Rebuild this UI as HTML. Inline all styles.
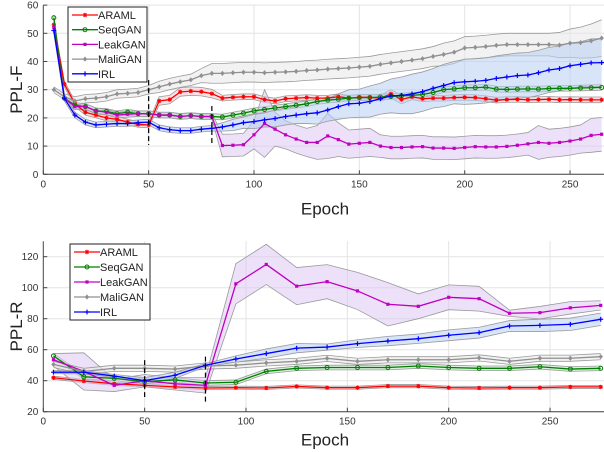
<!DOCTYPE html>
<html><head><meta charset="utf-8"><style>
html,body{margin:0;padding:0;background:#fff}
svg{display:block;font-family:"Liberation Sans",Arial,sans-serif}
</style></head><body>
<svg id="c" width="604" height="452" viewBox="0 0 604 452"></svg>
<script>
// ---------- TOP PANEL DATA (PPL-F) ----------
const epochsF = [5,10,15,20,25,30,35,40,45,50,55,60,65,70,75,80,85,90,95,100,105,110,115,120,125,130,135,140,145,150,155,160,165,170,175,180,185,190,195,200,205,210,215,220,225,230,235,240,245,250,255,260,265];
const arF  = [53,32,25,22,21,20,19.5,18.5,17.7,17.5,26,26.5,29.2,29.5,29.3,28.6,27,27.3,27.5,27.5,26.5,26,26.8,27,27.2,27,27,27.5,27,27.3,27.3,27,28.5,26.5,27.5,26.8,27,27,27.2,27.3,27.2,26.8,26.3,26.5,26.6,26.4,26.5,26.6,26.4,26.5,26.4,26.4,26.4];
const arFb = [1,1,1,1,1,1,1,1,1,1,1.5,1.5,1.5,1.5,1.5,1.5,1,1,1,1,1,1,1,1,1,1,1,1,1,1,1,1,1.5,1.5,1,1,1,1,1,1,1,1,1,1,1,1,1,1,1,1,1,1,1];
const sgF  = [55.5,27,24.5,24,22.5,22.3,21.5,22,21.5,21.5,21,21,20.5,20.8,20.5,20.5,20.3,21,21.7,22.5,23,23.5,24,24.5,25,25.8,26.3,26.6,27,27.2,27.2,27.4,27.6,27.8,28,28.3,29,30,30.3,30.7,30.7,30.9,30.2,30.1,30.2,30.3,30.2,30.4,30.5,30.5,30.6,30.7,30.8];
const sgFb = [1,1,1,1,1,1,1,1,1,1,1,1,1,1,1,1,1,1,1,1,1,1,1,1,1,1,1,1,1,1,1,1,1,1,1,1,1,1,1,1,1,1,1,1,1,1,1,1,1,1,1,1,1];
const lkF  = [52,27,24,24,22.5,22,21,21.3,21.5,21.5,21,21,20.5,20.8,20.5,20.5,10.2,10.3,10.5,14,18,16,14,12.5,11.3,11.3,13.6,12.3,10.7,11,11.3,10,9.5,9.5,9.7,9.8,9.3,9.3,9.2,9.5,9.8,9.7,9.7,9.9,10.3,10.8,11.3,11,11.3,11.8,12.5,13.8,14.2];
const lkFb = [1,1,1,1,1,1,1,1,1,1,1,1,1,1,1,1,4,4,4,5,12,6,5,5,5,6,8,6,5,5,5,4,4,4,4,4,4,4,4,4,4,4,4,4,4,4,6,5,5,5,5,6,6];
const mgF  = [30,27.5,26,26.8,27,27.5,28.5,28.7,29,30,31,32,32.8,33.5,35,35.8,35.8,36,36.2,36.2,36,36.2,36.3,36.5,36.8,37,37.3,37.5,37.7,38,38.3,39,39.5,40,40.5,41,41.8,42.5,43.3,44.8,45,45.3,45.7,46,46,46,46,46,45.8,46.5,46.7,47.3,48.3];
const mgFb = [1,1,1.5,1.5,1.5,1.5,1.5,1.5,1.5,1.5,2,2,2,2,2.5,3.5,3.5,3.5,3.5,3.5,3.5,3.5,3.5,3.5,3.5,3.5,3.5,3.5,3.5,3.5,3.5,3.5,3.5,3.5,3.5,3.5,3.5,4,4,4,4,4,4,4,4,4,4,4,4.5,5,5.5,6,6.5];
const irF  = [51,27,21,18.5,17.5,17.8,18,18,18.3,18.5,16.5,15.8,15.5,15.5,16,16.3,16.8,17.5,18.3,18.7,19.3,19.8,20.5,21,21.5,21.8,22.8,24,25,25.2,25.8,26.8,27.8,28,28.5,29.3,30.5,31.5,32.5,32.8,33,33.3,34,34.5,35,35.2,36,37,37.5,38.5,39,39.5,39.6];
const irFb = [1,1,1,1,1,1,1,1,1,1,1,1,1,1,1,1,1.5,2,2,2.5,2.5,3,3,3,3.5,4,4,4.5,5,5,5.5,5.5,6,6.5,7,7,7,7.5,7.5,8,8,8,8,8,8,8,8,8,8,8,8,8.5,8.5];
const yTicksF = [0,10,20,30,40,50,60];
const xTicksF = [0,50,100,150,200,250];

// ---------- BOTTOM PANEL DATA (PPL-R) ----------
const epochsR = [5,20,35,50,65,80,95,110,125,140,155,170,185,200,215,230,245,260,275];
const arR  = [41.9,39.8,38,37,36,35.3,35.5,35.3,36.3,35.5,35.5,36.5,36.5,35.5,35.3,35.5,35.5,36,36];
const arRb = [1,1,1,1,1,1,1,1,1,1,1,1,1,1,1,1,1,1,1];
const sgR  = [56,42.5,41.5,39.5,40.5,38.5,39,46,48,48.5,48.5,48.5,49.5,48.5,48,48,49,47.5,48];
const sgRb = [1.5,1.5,1.5,1.5,1.5,1.5,1.5,1.5,1.5,1.5,1.5,1.5,1.5,1.5,1.5,1.5,1.5,1.5,1.5];
const lkR  = [53.5,46,37,40,38,37,102.5,115,101,103.9,97.9,89.3,88,93.8,92.9,83.5,83.9,87,88.6];
const lkRb = [4,12,4,4,4,5,13,13,12,11,12,14,8,8,8,2,4,4,3];
const mgR  = [50.5,46,48,48,47.5,49.5,50,51.5,52.5,54.4,52.5,53.5,53.5,53.5,54.7,52.5,54.5,54.5,55.5];
const mgRb = [2,2,2,2,2,2,2,2,2,2,2,2,2,2,2,2,2,2,2];
const irR  = [45.5,45.5,43,40,43.5,50,54,57.5,61,61.7,63.9,65.6,67.1,69.3,71,75.3,75.7,76.4,79.6];
const irRb = [1,1,1,2,2,1,2,3,3,2,2.5,3,3,3.5,3.5,3.5,4,4,4];
const yTicksR = [20,40,60,80,100,120];
const xTicksR = [0,50,100,150,200,250];

const seriesNames = ["ARAML","SeqGAN","LeakGAN","MaliGAN","IRL"];
const lineColors = ["#ff0000","#008000","#c000c0","#909090","#0000ff"];
const fillColors = ["#f8c8d0","#bfe3c4","#dcc8f2","#e8e8e8","#b8d0f4"];
const markers = ["star","circle","square","diamond","plus"];

const NS="http://www.w3.org/2000/svg";
const svg=document.getElementById('c');
function el(tag,attrs,parent){const e=document.createElementNS(NS,tag);for(const k in attrs)e.setAttribute(k,attrs[k]);(parent||svg).appendChild(e);return e;}

function panel(cfg){
  const g=el('g',{});
  
  
  const sx=v=>cfg.x0+v*cfg.kx, sy=v=>cfg.yb-(v-cfg.ymin)*cfg.ky;
  const top=sy(cfg.ymax), bot=sy(cfg.ymin);
  const cid='clip'+cfg.id;
  const cp=el('clipPath',{id:cid},g); el('rect',{x:cfg.x0,y:top,width:604-cfg.x0,height:bot-top},cp);
  const grid=el('g',{},g);
  
  
  cfg.yt.forEach(t=>{el('line',{x1:cfg.x0,x2:604,y1:sy(t),y2:sy(t),stroke:'#e3e3e3','stroke-width':1},grid);});
  cfg.xt.forEach(t=>{if(t>0)el('line',{x1:sx(t),x2:sx(t),y1:top,y2:bot,stroke:'#e3e3e3','stroke-width':1},grid);});
  const plot=el('g',{'clip-path':'url(#'+cid+')'},g);
  cfg.series.forEach((s,i)=>{
    const up=s.m.map((v,j)=>[sx(cfg.ep[j]),sy(v+s.b[j])]);
    const lo=s.m.map((v,j)=>[sx(cfg.ep[j]),sy(v-s.b[j])]);
    const pts=up.concat(lo.slice().reverse()).map(p=>p.join(',')).join(' ');
    const band=el('polygon',{points:pts,fill:fillColors[i],'fill-opacity':0.55,stroke:'none'},plot);
    
    
    [up,lo].forEach(e=>el('polyline',{points:e.map(p=>p.join(',')).join(' '),fill:'none',stroke:'#9a9a9a','stroke-width':0.8},plot));
  });
  cfg.series.forEach((s,i)=>{
    const pts=s.m.map((v,j)=>sx(cfg.ep[j])+','+sy(v)).join(' ');
    const ln=el('polyline',{points:pts,fill:'none',stroke:lineColors[i],'stroke-width':1.3},plot);
    
    
    s.m.forEach((v,j)=>drawMarker(plot,markers[i],sx(cfg.ep[j]),sy(v),lineColors[i]));
  });
  cfg.dash.forEach(d=>{
    const dl=el('line',{x1:sx(d[0]),x2:sx(d[0]),y1:sy(d[1]),y2:sy(d[2]),stroke:'#000','stroke-width':1.2,'stroke-dasharray':'5,3'},g);
    
    
  });
  el('line',{x1:cfg.x0,x2:cfg.x0,y1:top,y2:bot,stroke:'#444','stroke-width':1},g);
  el('line',{x1:cfg.x0,x2:604,y1:bot,y2:bot,stroke:'#444','stroke-width':1},g);
  cfg.yt.forEach(t=>{
    el('line',{x1:cfg.x0,x2:cfg.x0+4,y1:sy(t),y2:sy(t),stroke:'#444'},g);
    const tx=el('text',{x:cfg.x0-5,y:sy(t)+3.5,'text-anchor':'end','font-size':10,fill:'#333'},g);
    tx.textContent=t;
    
    
  });
  cfg.xt.forEach(t=>{
    el('line',{x1:sx(t),x2:sx(t),y1:bot,y2:bot-4,stroke:'#444'},g);
    const tx=el('text',{x:sx(t),y:bot+13,'text-anchor':'middle','font-size':10,fill:'#333'},g);
    tx.textContent=t;
    
    
  });
  const xl=el('text',{x:325,y:bot+cfg.xlOff,'text-anchor':'middle','font-size':17,fill:'#222'},g);
  xl.textContent='Epoch';
  
  
  const cy=(top+bot)/2;
  const yl=el('text',{x:22,y:cy,'text-anchor':'middle','font-size':17,fill:'#222',transform:'rotate(-90 22 '+cy+')'},g);
  yl.textContent=cfg.ylab;
  
  
  const L=cfg.leg;
  const lg=el('g',{},g);
  
  
  el('rect',{x:L.x,y:L.y,width:L.w,height:L.h,fill:'#fff',stroke:'#222','stroke-width':1},lg);
  seriesNames.forEach((n,i)=>{
    const yy=L.y+8+i*L.dy;
    const ent=el('g',{},lg);
    
    
    el('line',{x1:L.x+4,x2:L.x+30,y1:yy,y2:yy,stroke:lineColors[i],'stroke-width':1.3},ent);
    drawMarker(ent,markers[i],L.x+17,yy,lineColors[i]);
    const t=el('text',{x:L.x+30,y:yy+4,'font-size':11,fill:'#222'},ent);
    t.textContent=n;
  });
}
function drawMarker(p,type,x,y,c){
  if(type==='circle')el('circle',{cx:x,cy:y,r:2,fill:'none',stroke:c,'stroke-width':1},p);
  else if(type==='square')el('rect',{x:x-1.6,y:y-1.6,width:3.2,height:3.2,fill:c},p);
  else if(type==='diamond')el('polygon',{points:`${x},${y-2.6} ${x+2.2},${y} ${x},${y+2.6} ${x-2.2},${y}`,fill:c},p);
  else if(type==='plus'){el('path',{d:`M${x-2.4},${y}H${x+2.4}M${x},${y-2.4}V${y+2.4}`,stroke:c,'stroke-width':1.2},p);}
  else {el('path',{d:`M${x-2.2},${y}H${x+2.2}M${x},${y-2.2}V${y+2.2}M${x-1.6},${y-1.6}L${x+1.6},${y+1.6}M${x-1.6},${y+1.6}L${x+1.6},${y-1.6}`,stroke:c,'stroke-width':1},p);}
}

panel({id:'F',name:'ppl-f-panel',ep:epochsF,x0:43.3,kx:2.107,yb:174.3,ky:2.82,ymin:0,ymax:60,yt:yTicksF,xt:xTicksF,ylab:'PPL-F',xlOff:40,
  series:[{m:arF,b:arFb},{m:sgF,b:sgFb},{m:lkF,b:lkFb},{m:mgF,b:mgFb},{m:irF,b:irFb}],
  dash:[[50,33.4,10.4],[80,24.2,11]],
  leg:{x:68,y:7,w:79,h:75,dy:14.7}});
panel({id:'R',name:'ppl-r-panel',ep:epochsR,x0:43.3,kx:2.027,yb:411.7,ky:1.55,ymin:20,ymax:130,yt:yTicksR,xt:xTicksR,ylab:'PPL-R',xlOff:34,
  series:[{m:arR,b:arRb},{m:sgR,b:sgRb},{m:lkR,b:lkRb},{m:mgR,b:mgRb},{m:irR,b:irRb}],
  dash:[[50,53.3,29.5],[80,55.5,26.5]],
  leg:{x:70,y:244,w:80,h:76,dy:15}});
</script>
</body></html>
